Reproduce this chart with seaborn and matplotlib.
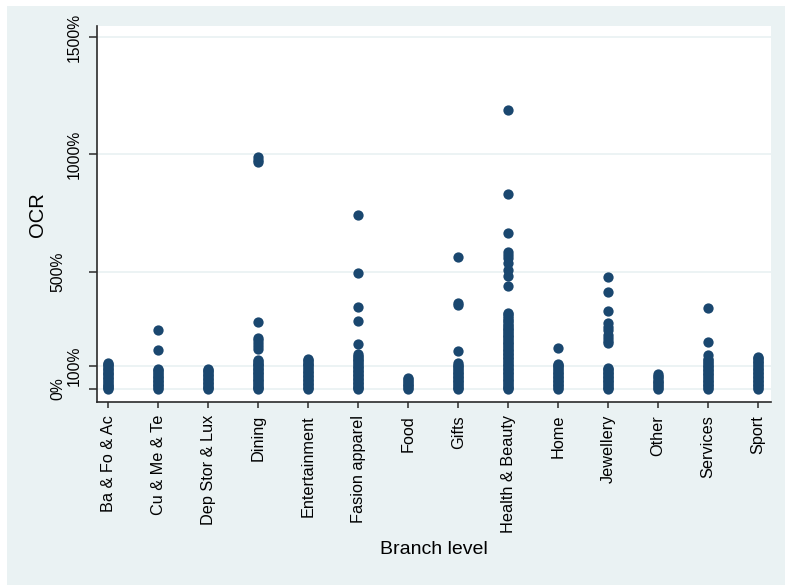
import matplotlib
matplotlib.use("Agg")
import matplotlib.pyplot as plt
from matplotlib.patches import Rectangle
import pandas as pd
import seaborn as sns

# OCR (%) per store by branch level
categories = ["Ba & Fo & Ac", "Cu & Me & Te", "Dep Stor & Lux", "Dining",
              "Entertainment", "Fasion apparel", "Food", "Gifts",
              "Health & Beauty", "Home", "Jewellery", "Other", "Services", "Sport"]

ba_fo_ac = [0, 3, 8, 14, 19, 23, 30, 34, 41, 47, 52, 58, 63, 69, 74, 80, 86, 91, 97, 102, 107, 111]
cu_me_te = [0, 5, 11, 16, 22, 28, 33, 40, 46, 51, 57, 63, 70, 76, 81, 85, 166, 251]
dep_stor_lux = [0, 4, 9, 15, 20, 26, 32, 37, 43, 49, 55, 60, 66, 71, 77, 82, 85]
dining = [0, 4, 10, 15, 21, 27, 33, 38, 44, 50, 56, 62, 68, 73, 79, 85, 90, 96,
          101, 107, 112, 118, 125, 169, 182, 195, 207, 216, 287, 968, 975, 988]
entertainment = [0, 5, 10, 16, 22, 27, 33, 39, 44, 50, 56, 61, 67, 73, 78, 84, 90,
                 96, 101, 107, 112, 118, 123, 127]
fasion_apparel = [0, 4, 9, 15, 21, 26, 32, 37, 43, 49, 54, 60, 66, 72, 77, 83, 89,
                  95, 100, 106, 112, 118, 124, 130, 136, 142, 150, 190, 290, 351, 493, 741]
food = [0, 5, 11, 17, 23, 29, 35, 41, 47]
gifts = [0, 5, 10, 16, 22, 28, 33, 39, 45, 51, 57, 62, 68, 74, 80, 86, 92, 98,
         104, 110, 163, 360, 368, 564]
health_beauty = [0, 4, 10, 15, 21, 27, 33, 38, 44, 50, 56, 62, 67, 73, 79, 85, 90,
                 96, 102, 108, 114, 120, 126, 131, 137, 143, 149, 155, 161, 167, 172,
                 178, 184, 190, 196, 202, 208, 214, 220, 226, 232, 238, 244, 250,
                 256, 262, 268, 274, 281, 288, 295, 302, 310, 318, 325, 440, 481,
                 507, 535, 560, 571, 585, 666, 830, 1189]
home = [0, 5, 11, 16, 22, 28, 34, 39, 45, 51, 57, 62, 68, 74, 80, 86, 92, 97, 102, 107, 173]
jewellery = [0, 5, 10, 16, 22, 28, 33, 39, 45, 51, 56, 62, 68, 74, 79, 85, 90,
             195, 205, 216, 230, 251, 265, 280, 334, 415, 476]
other = [0, 6, 12, 18, 24, 30, 36, 42, 50, 57, 64]
services = [0, 5, 11, 17, 23, 29, 34, 40, 46, 52, 58, 63, 69, 75, 81, 87, 93, 99,
            104, 110, 116, 122, 128, 145, 199, 345]
sport = [0, 5, 11, 16, 22, 28, 34, 39, 45, 51, 57, 62, 68, 74, 80, 86, 91, 97,
         103, 109, 114, 120, 126, 131, 135]

series = [ba_fo_ac, cu_me_te, dep_stor_lux, dining, entertainment, fasion_apparel,
          food, gifts, health_beauty, home, jewellery, other, services, sport]

y_ticks = [0, 100, 500, 1000, 1500]
y_tick_labels = ["0%", "100%", "500%", "1000%", "1500%"]
# labels pushed further left so neighbouring ones don't collide
y_staggered = {"0%", "500%"}

df = pd.DataFrame({
    "Branch level": [c for c, vals in zip(categories, series) for _ in vals],
    "OCR": [v for vals in series for v in vals],
})

sns.set_theme(style="white")
plt.rcParams["font.family"] = ["Liberation Sans", "DejaVu Sans"]

BG = "#EAF2F3"
NAVY = "#1A476F"
AXIS = "#2B2B2B"

fig = plt.figure(figsize=(7.85, 5.85), dpi=100, facecolor="white")
fig.patches.append(Rectangle((7 / 785, 0), 1, (585 - 5.7) / 585,
                             transform=fig.transFigure, facecolor=BG,
                             edgecolor="none", zorder=-10))
ax = fig.add_axes([96.7 / 785, (585 - 401.7) / 585, 674 / 785, 376 / 585])
ax.set_facecolor("white")

sns.stripplot(data=df, x="Branch level", y="OCR", order=categories, jitter=False,
              color=NAVY, size=7.4, linewidth=0, ax=ax, zorder=3)

ax.set_xlim(-0.233, 13.25)
ax.set_ylim(-54, 1548)
ax.set_yticks(y_ticks)
ax.set_yticklabels(y_tick_labels)
ax.grid(axis="y", color=BG, linewidth=1.3, zorder=0)
ax.grid(axis="x", visible=False)
ax.set_axisbelow(True)

for side in ("top", "right"):
    ax.spines[side].set_visible(False)
for side in ("left", "bottom"):
    ax.spines[side].set_color(AXIS)
    ax.spines[side].set_linewidth(1.2)

ax.tick_params(axis="y", which="major", left=True, length=6, width=1.1, color=AXIS,
               pad=4.8, labelsize=11.3, labelcolor="black", labelrotation=90)
ax.tick_params(axis="x", which="major", bottom=True, length=4.5, width=1.1, color=AXIS,
               pad=5, labelsize=11.7, labelcolor="black", labelrotation=90)

for tick, text in zip(ax.yaxis.get_major_ticks(), y_tick_labels):
    if text in y_staggered:
        tick.set_pad(16.3)
for lbl in ax.get_yticklabels():
    lbl.set_verticalalignment("center")

ax.set_ylabel("OCR", fontsize=14.5, color="black")
ax.yaxis.label.set_verticalalignment("center")
ax.yaxis.set_label_coords((38 - 96.7) / 674, 0.498)
ax.set_xlabel("Branch level", fontsize=14, color="black")
ax.xaxis.label.set_verticalalignment("center")
ax.xaxis.set_label_coords(0.5004, (401.7 - 550) / 376)

fig.savefig("out.png", dpi=100, facecolor=fig.get_facecolor())
